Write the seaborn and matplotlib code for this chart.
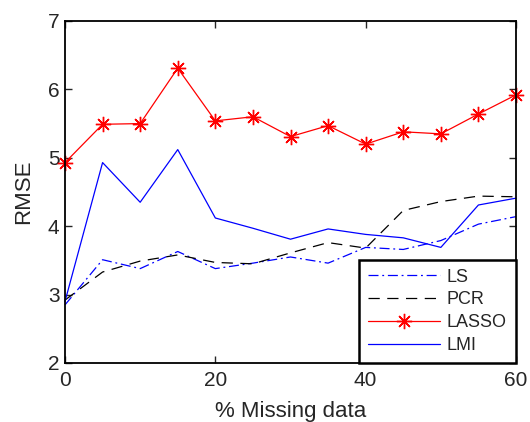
import numpy as np
import pandas as pd
import matplotlib
matplotlib.use("Agg")
import matplotlib.pyplot as plt
import seaborn as sns

missing = [0, 5, 10, 15, 20, 25, 30, 35, 40, 45, 50, 55, 60]
ls_vals = [2.85, 3.51, 3.38, 3.63, 3.38, 3.46, 3.55, 3.46, 3.69, 3.66, 3.79, 4.03, 4.14]
pcr_vals = [2.92, 3.33, 3.49, 3.58, 3.47, 3.45, 3.61, 3.76, 3.68, 4.23, 4.36, 4.44, 4.43]
lasso_vals = [4.93, 5.49, 5.50, 6.31, 5.54, 5.60, 5.31, 5.47, 5.20, 5.38, 5.35, 5.64, 5.92]
lmi_vals = [2.90, 4.93, 4.35, 5.12, 4.12, 3.97, 3.81, 3.96, 3.88, 3.83, 3.69, 4.31, 4.41]
series = ["LS", "PCR", "LASSO", "LMI"]

df = pd.DataFrame({
    "x": missing * 4,
    "y": ls_vals + pcr_vals + lasso_vals + lmi_vals,
    "method": sum([[s] * len(missing) for s in series], []),
})

sns.set_style("white")
plt.rcParams["font.family"] = ["Liberation Sans", "DejaVu Sans"]

fig = plt.figure(figsize=(5.3, 4.22), dpi=100)
ax = fig.add_axes([65 / 530, 1 - 363 / 422, (516 - 65) / 530, (363 - 21) / 422])

styles = {
    "LS": dict(color="#0000ff", linestyle=(0, (8, 3, 1.5, 3))),
    "PCR": dict(color="black", linestyle=(0, (9, 6))),
    "LASSO": dict(color="#ff0000", linestyle="-", marker=(8, 2, 0), markersize=11,
                  markeredgewidth=1.0, markeredgecolor="#ff0000", markerfacecolor="#ff0000"),
    "LMI": dict(color="#0000ff", linestyle="-"),
}
for s in series:
    sub = df[df["method"] == s]
    sns.lineplot(data=sub, x="x", y="y", ax=ax, label=s, linewidth=0.9,
                 clip_on=False, **styles[s])

ax.set_xlim(0, 60)
ax.set_ylim(2, 7)
ax.set_xticks([0, 20, 40, 60])
ax.set_yticks([2, 3, 4, 5, 6, 7])
ax.tick_params(direction="in", length=5, width=1, labelsize=15, top=True, right=True,
               bottom=True, left=True)
ax.tick_params(axis="x", pad=6)
ax.tick_params(axis="y", pad=4)
for sp in ax.spines.values():
    sp.set_linewidth(1.3)
    sp.set_color("black")
ax.set_xlabel("% Missing data", fontsize=16, labelpad=8)
ax.set_ylabel("RMSE", fontsize=16, labelpad=10)

leg = ax.legend(loc="lower right", bbox_to_anchor=(1.0, 0.0), fontsize=13,
                frameon=True, fancybox=False, borderaxespad=0, handlelength=4.0,
                labelspacing=0.32, borderpad=0.5, handletextpad=0.4)
leg.get_frame().set_edgecolor("black")
leg.get_frame().set_linewidth(1.8)
leg.get_frame().set_alpha(1)

fig.savefig("out.png", dpi=100)
